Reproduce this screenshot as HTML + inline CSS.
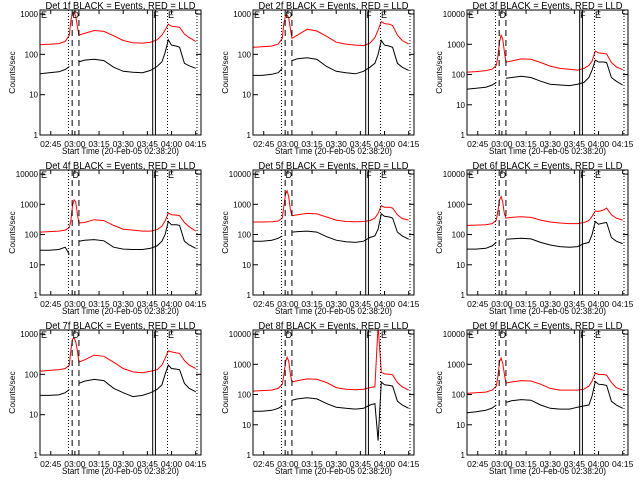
<!DOCTYPE html>
<html><head><meta charset="utf-8"><style>
html,body{margin:0;padding:0;background:#fff;}
svg{display:block;font-family:"Liberation Sans",sans-serif;}
</style></head><body>
<svg id="chart" width="640" height="480" viewBox="0 0 640 480" xmlns="http://www.w3.org/2000/svg"></svg>
<script>
const times = [38.5,44,50,54,56.5,57.5,58.5,59.5,60.5,61.5,62.5,66,72,78,84,90,96,102,107,111,114,116,118,120,123,125,128,131,135];
const detLabels = ["1f","2f","3f","4f","5f","6f","7f","8f","9f"];
const yMaxDecade = [3,3,4,4,4,4,3,4,4];
const xTickMinutes = [45,60,75,90,105,120,135];
const xTickLabels = ["02:45","03:00","03:15","03:30","03:45","04:00","04:15"];
const n = null;
const red1 = [175,178,185,210,300,700,1050,1100,900,500,300,330,390,370,290,220,195,190,200,230,300,400,560,500,480,470,320,260,210];
const blk1 = [33,35,37,42,50,n,n,n,n,n,65,72,76,70,48,38,36,35,40,50,65,110,230,170,160,150,60,52,45];
const red2 = [150,155,160,180,250,600,900,950,800,450,250,300,420,380,280,200,180,170,165,190,260,400,650,580,560,520,300,220,180];
const blk2 = [30,30,32,35,45,n,n,n,n,n,70,78,82,75,50,38,35,33,38,48,60,100,220,170,160,150,60,48,40];
const red3 = [120,125,135,150,200,400,1200,2000,1500,600,260,280,330,320,250,190,160,150,140,160,200,280,600,520,500,480,250,180,145];
const blk3 = [33,35,38,45,55,n,n,n,n,n,75,80,88,80,60,48,45,43,48,55,80,140,300,260,260,250,80,60,45];
const red4 = [120,125,130,140,170,300,900,1400,1200,500,240,250,310,290,200,150,140,130,130,145,190,280,520,450,440,420,250,180,130];
const blk4 = [30,30,32,38,22,n,n,n,n,n,60,65,68,62,38,33,32,32,35,42,60,100,270,210,210,200,60,45,35];
const red5 = [260,260,265,280,350,900,2200,2800,1800,700,420,450,500,480,380,300,270,265,270,290,350,500,900,800,800,750,450,340,300];
const blk5 = [60,60,65,75,90,n,n,n,n,n,120,125,130,120,85,65,58,55,60,80,90,150,480,400,380,350,120,90,70];
const red6 = [200,205,210,230,300,600,1400,1800,1200,500,350,370,390,370,300,260,240,230,230,250,290,400,600,580,650,750,450,350,300];
const blk6 = [33,33,35,42,55,n,n,n,n,n,70,72,75,72,55,45,40,38,40,50,55,100,270,220,240,250,80,60,50];
const red7 = [120,125,130,140,170,400,750,800,650,400,200,230,300,280,200,140,115,110,120,130,170,250,380,360,340,330,220,170,140];
const blk7 = [30,30,31,35,42,n,n,n,n,n,60,68,75,70,45,35,28,30,35,42,55,100,170,140,135,130,60,45,37];
const red8 = [130,135,140,160,220,450,1200,1700,1300,500,260,290,330,320,250,170,150,145,150,170,180,20000,550,480,470,450,250,180,140];
const blk8 = [28,28,30,35,42,n,n,n,n,n,65,72,78,72,50,38,35,33,35,45,50,3,260,210,200,190,60,45,35];
const red9 = [110,115,120,140,190,400,1200,1600,1100,500,240,260,290,280,220,160,140,140,140,150,190,280,520,460,460,440,250,170,140];
const blk9 = [25,27,30,36,45,n,n,n,n,n,55,62,68,65,45,35,33,33,38,42,45,90,270,220,210,200,60,45,35];
const redSeries = [red1,red2,red3,red4,red5,red6,red7,red8,red9];
const blkSeries = [blk1,blk2,blk3,blk4,blk5,blk6,blk7,blk8,blk9];
const dottedTimes = [56,117.5,135.8];
const dashedTimes = [58.3,62.5];
const solidTimes = [108.3,110];

const NS="http://www.w3.org/2000/svg";
const svg=document.getElementById('chart');
function mk(tag,attrs,parent){const e=document.createElementNS(NS,tag);for(const k in attrs)e.setAttribute(k,attrs[k]);parent.appendChild(e);return e;}
const X0=38.33,X1=138.3;
for(let p=0;p<9;p++){
  const col=p%3,row=Math.floor(p/3);
  const ox=Math.round(col*213.4),oy=row*160;
  const L=ox+40,R=ox+201,T=oy+10,B=oy+135;
  const top=yMaxDecade[p];
  const yTopVal = top===3 ? 3.1 : 4.135;
  const xs=t=>L+(t-X0)/(X1-X0)*(R-L);
  const ys=v=>B-(Math.log10(v)-0)/(yTopVal)*(B-T);
  const g=mk('g',{},svg);
  
  
  const cid='clip'+p;
  const cp=mk('clipPath',{id:cid},g);mk('rect',{x:L,y:T,width:R-L,height:B-T},cp);
  const title=mk('text',{x:(L+R)/2,y:oy+9,'text-anchor':'middle','font-size':10,textLength:150,lengthAdjust:'spacingAndGlyphs'},g);
  title.textContent='Det '+detLabels[p]+' BLACK = Events, RED = LLD';
  
  
  for(let d=0;d<=top;d++){
    const y=ys(Math.pow(10,d));
    mk('line',{x1:L,x2:L+5,y1:y,y2:y,stroke:'#000'},g);
    mk('line',{x1:R,x2:R-5,y1:y,y2:y,stroke:'#000'},g);
    const tl=mk('text',{x:L-2,y:y+3,'text-anchor':'end','font-size':8},g);
    tl.textContent=String(Math.pow(10,d));
    
    
  }
  for(let i=0;i<xTickMinutes.length;i++){
    const x=xs(xTickMinutes[i]);
    mk('line',{x1:x,x2:x,y1:B,y2:B-4,stroke:'#000'},g);
    mk('line',{x1:x,x2:x,y1:T,y2:T+4,stroke:'#000'},g);
    const tl=mk('text',{x:x,y:B+12,'text-anchor':'middle','font-size':8.5},g);
    tl.textContent=xTickLabels[i];
    
    
  }
  const xt=mk('text',{x:(L+R)/2,y:oy+154,'text-anchor':'middle','font-size':9,textLength:117,lengthAdjust:'spacingAndGlyphs'},g);
  xt.textContent='Start Time (20-Feb-05 02:38:20)';
  
  
  const yt=mk('text',{x:0,y:0,'text-anchor':'middle','font-size':8.5,transform:'translate('+(ox+15)+','+((T+B)/2)+') rotate(-90)'},g);
  yt.textContent='Counts/sec';
  
  
  const cg=mk('g',{'clip-path':'url(#'+cid+')'},g);
  function path(arr,color,name){
    let d='',pen=false;
    for(let i=0;i<times.length;i++){
      if(arr[i]===null){pen=false;continue;}
      d+=(pen?'L':'M')+xs(times[i]).toFixed(1)+' '+ys(arr[i]).toFixed(1);pen=true;
    }
    const e=mk('path',{d:d,fill:'none',stroke:color,'stroke-width':1},cg);
    
    
  }
  path(redSeries[p],'#ff0000','lld-red-line');
  path(blkSeries[p],'#000000','events-black-line');
  dottedTimes.forEach(t=>{const x=xs(t);mk('line',{x1:x,x2:x,y1:T,y2:B,stroke:'#000','stroke-dasharray':'1 2'},g);});
  dashedTimes.forEach(t=>{const x=xs(t);mk('line',{x1:x,x2:x,y1:T,y2:B,stroke:'#000','stroke-dasharray':'6 4'},g);});
  solidTimes.forEach(t=>{const x=xs(t);mk('line',{x1:x,x2:x,y1:T,y2:B,stroke:'#000'},g);});
  const marks=[[L+1,'E'],[xs(58.5),'D'],[xs(108.6),'F'],[xs(117.8),'E']];
  marks.forEach(m=>{const e=mk('text',{x:m[0],y:T+8,'font-size':9},g);e.textContent=m[1];
    
    });
  mk('rect',{x:L,y:T,width:R-L,height:B-T,fill:'none',stroke:'#000'},g);
}
</script>
</body></html>
